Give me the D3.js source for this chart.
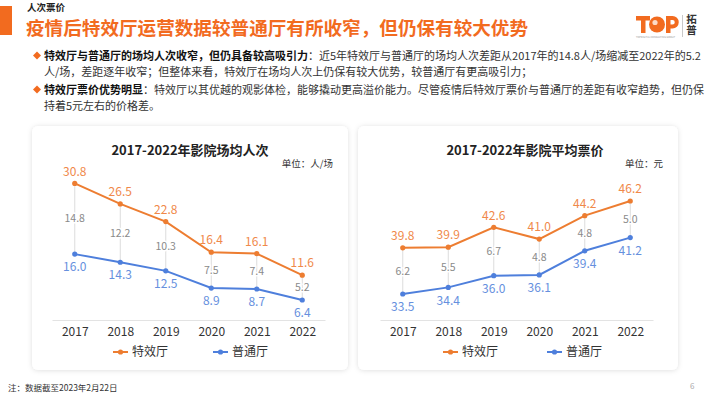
<!DOCTYPE html>
<html><head><meta charset="utf-8">
<script src="https://cdn.jsdelivr.net/npm/d3@7"></script>
<style>
html,body{margin:0;padding:0;background:#fff;}
svg{display:block;font-family:"Noto Sans CJK SC","Noto Sans",sans-serif;}
</style></head>
<body>
<svg id="c" width="710" height="399"></svg>
<script>
// ---- data ----
const years = ["2017","2018","2019","2020","2021","2022"];
const seriesNames = ["特效厅","普通厅"];
// chart 1: 影院场均人次 (人/场)
const attendIMAX = [30.8, 26.5, 22.8, 16.4, 16.1, 11.6];
const attendNormal = [16.0, 14.3, 12.5, 8.9, 8.7, 6.4];
const attendGap = [14.8, 12.2, 10.3, 7.5, 7.4, 5.2];
// chart 2: 影院平均票价 (元)
const priceIMAX = [39.8, 39.9, 42.6, 41.0, 44.2, 46.2];
const priceNormal = [33.5, 34.4, 36.0, 36.1, 39.4, 41.2];
const priceGap = [6.2, 5.5, 6.7, 4.8, 4.8, 5.0];

const ORANGE = "#ED7D31", ORANGE_T = "#F0894A";
const BLUE = "#4E7FDC", BLUE_T = "#6690DE";
const HEAD = "#F26B1F";

const svg = d3.select("#c");
const defs = svg.append("defs");
const f = defs.append("filter").attr("id","sh").attr("x","-10%").attr("y","-10%").attr("width","120%").attr("height","120%");
f.append("feDropShadow").attr("dx",0).attr("dy",0.5).attr("stdDeviation",2.5).attr("flood-color","#000").attr("flood-opacity",0.13);

// ---- header ----
svg.append("rect").attr("x",0).attr("y",6).attr("width",12).attr("height",29).attr("fill",HEAD);
svg.append("text").attr("x",27).attr("y",10.5).attr("font-size",9.5).attr("font-weight",700).attr("fill","#222").text("人次票价");
svg.append("text").attr("x",26).attr("y",35).attr("font-size",18.6).attr("font-weight",700).attr("fill",HEAD)
  .text("疫情后特效厅运营数据较普通厅有所收窄，但仍保有较大优势");

// logo (drawn shapes)
const logo = svg.append("g").attr("fill",HEAD);
logo.append("rect").attr("x",636).attr("y",16).attr("width",14).attr("height",4.5);
logo.append("rect").attr("x",641).attr("y",16).attr("width",4.5).attr("height",17);
logo.append("circle").attr("cx",657).attr("cy",24.5).attr("r",8);
logo.append("circle").attr("cx",655).attr("cy",22.5).attr("r",2.6).attr("fill","#fff").attr("opacity",0.75);
logo.append("path").attr("fill-rule","evenodd")
  .attr("d","M666,16 h6.5 a6.25,6.25 0 0 1 0,12.5 h-2 v4.5 h-4.5 z M670.5,20 h2 a2.25,2.25 0 0 1 0,4.5 h-2 z");
svg.append("text").attr("x",636).attr("y",37.5).attr("font-size",2.5).attr("fill","#999").text("TOPDIGITAL CONSULTING GROUP");
svg.append("line").attr("x1",682.5).attr("x2",682.5).attr("y1",15).attr("y2",37).attr("stroke","#bbb").attr("stroke-width",0.8);
svg.append("text").attr("x",691.5).attr("y",14).attr("writing-mode","tb").attr("font-size",10.5)
  .attr("font-weight",700).attr("fill","#333").text("拓普");

// bullets
const lines = [
  {y:60, diamond:true, bold:"特效厅与普通厅的场均人次收窄，但仍具备较高吸引力", rest:"：近5年特效厅与普通厅的场均人次差距从2017年的14.8人/场缩减至2022年的5.2"},
  {y:76, diamond:false, bold:"", rest:"人/场，差距逐年收窄；但整体来看，特效厅在场均人次上仍保有较大优势，较普通厅有更高吸引力；"},
  {y:94, diamond:true, bold:"特效厅票价优势明显", rest:"：特效厅以其优越的观影体检，能够撬动更高溢价能力。尽管疫情后特效厅票价与普通厅的差距有收窄趋势，但仍保"},
  {y:110, diamond:false, bold:"", rest:"持着5元左右的价格差。"}
];
lines.forEach(l=>{
  if(l.diamond){
    svg.append("path").attr("d",`M37,${l.y-8.5} l4,4 l-4,4 l-4,-4 z`).attr("fill",HEAD);
  }
  const t = svg.append("text").attr("x",44).attr("y",l.y).attr("font-size",11).attr("fill","#333");
  if(l.bold) t.append("tspan").attr("font-weight",700).attr("fill","#111").text(l.bold);
  t.append("tspan").text(l.rest);
});

// ---- charts ----
function chart(o){
  const g = svg.append("g");
  g.append("rect").attr("x",o.cx).attr("y",126).attr("width",o.cw).attr("height",244).attr("rx",6)
    .attr("fill","#fff").attr("filter","url(#sh)");
  g.append("text").attr("x",o.titleX).attr("y",155).attr("text-anchor","middle").attr("font-size",13)
    .attr("font-weight",700).attr("fill","#222").text(o.title);
  g.append("text").attr("x",o.unitX).attr("y",167).attr("text-anchor","end").attr("font-size",9.5)
    .attr("fill","#333").text(o.unit);

  const x = d3.scalePoint().domain(years).range(o.xr).padding(0.5);
  const y = d3.scaleLinear().domain(o.yd).range(o.yr);

  const ax = g.append("g").attr("transform","translate(0,320)")
    .call(d3.axisBottom(x).tickSize(0).tickPadding(7).tickSizeOuter(0));
  ax.select(".domain").attr("stroke","#e3e3e3");
  ax.selectAll("text").attr("font-size",12).attr("fill","#333").attr("font-family","Noto Sans CJK SC, sans-serif");

  // connectors
  years.forEach((yr,i)=>{
    g.append("line").attr("x1",x(yr)).attr("x2",x(yr)).attr("y1",y(o.a[i])).attr("y2",y(o.b[i]))
      .attr("stroke","#dcdcdc").attr("stroke-width",1);
  });
  years.forEach((yr,i)=>{
    g.append("text").attr("x",x(yr)).attr("y",(y(o.a[i])+y(o.b[i]))/2).attr("dy","0.35em")
      .attr("text-anchor","middle").attr("font-size",10.5).attr("fill","#8a8a8a")
      .attr("stroke","#fff").attr("stroke-width",3).attr("paint-order","stroke")
      .text(o.gap[i].toFixed(1));
  });

  const line = d3.line().x((d,i)=>x(years[i])).y(d=>y(d));
  [[o.a,ORANGE,ORANGE_T,-12],[o.b,BLUE,BLUE_T,13]].forEach(([vals,c,tc,off])=>{
    g.append("path").attr("d",line(vals)).attr("fill","none").attr("stroke",c).attr("stroke-width",2);
    g.selectAll(null).data(vals).enter().append("circle").attr("cx",(d,i)=>x(years[i])).attr("cy",d=>y(d))
      .attr("r",2.6).attr("fill",c);
    g.selectAll(null).data(vals).enter().append("text").attr("x",(d,i)=>x(years[i])).attr("y",d=>y(d)+off)
      .attr("dy","0.35em").attr("text-anchor","middle").attr("font-size",12).attr("fill",tc)
      .text(d=>d.toFixed(1));
  });

  // legend
  [[o.lg[0],ORANGE,seriesNames[0]],[o.lg[1],BLUE,seriesNames[1]]].forEach(([lx,c,name])=>{
    g.append("line").attr("x1",lx).attr("x2",lx+15).attr("y1",352).attr("y2",352).attr("stroke",c).attr("stroke-width",2);
    g.append("circle").attr("cx",lx+7.5).attr("cy",352).attr("r",2.6).attr("fill",c);
    g.append("text").attr("x",lx+19).attr("y",352).attr("dy","0.35em").attr("font-size",12).attr("fill","#333").text(name);
  });
}

chart({cx:32, cw:316, title:"2017-2022年影院场均人次", titleX:190, unit:"单位：人/场", unitX:333,
  xr:[52,325], yd:[0,35], yr:[330.6,163.3], a:attendIMAX, b:attendNormal, gap:attendGap, lg:[113,213]});
chart({cx:358, cw:320, title:"2017-2022年影院平均票价", titleX:525, unit:"单位：元", unitX:663,
  xr:[380,653], yd:[30,50], yr:[319.6,173.2], a:priceIMAX, b:priceNormal, gap:priceGap, lg:[443,547]});

// footer
svg.append("text").attr("x",8).attr("y",391).attr("font-size",8.5).attr("fill","#333").text("注：数据截至2023年2月22日");
svg.append("text").attr("x",690).attr("y",389).attr("font-size",8).attr("fill","#aaa").text("6");
</script>
</body></html>
